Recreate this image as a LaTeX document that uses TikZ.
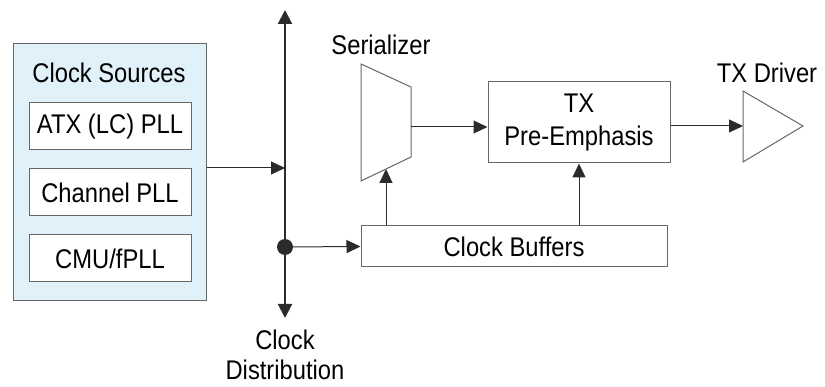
\documentclass[tikz,border=0pt]{standalone}
\usepackage{fontspec}
\setmainfont{Liberation Sans}[FakeStretch=0.88]
\usepackage{xcolor}
\usetikzlibrary{arrows.meta}
\definecolor{srcblue}{HTML}{E1F1F9}
\definecolor{wire}{HTML}{2B2B2B}
\definecolor{edge}{HTML}{666666}
\tikzstyle{block}=[rectangle,draw=edge,fill=white,line width=1pt,inner sep=0pt,font=\fontsize{27}{33}\selectfont,align=center]
\tikzstyle{tag}=[inner sep=0pt,font=\fontsize{27}{30}\selectfont,align=center]
\tikzstyle{sig}=[draw=wire,line width=1pt,-{Triangle[length=14pt,width=13pt]}]
\tikzstyle{bus}=[draw=wire,line width=2pt,{Triangle[length=14pt,width=14pt]}-{Triangle[length=14pt,width=14pt]}]

\begin{document}
\begin{tikzpicture}[x=1pt,y=-1pt]
        \useasboundingbox (0,0) rectangle (825,387);

        % clock sources
        \node at (109.5,172.5) [block,fill=srcblue,minimum width=193,minimum height=257] (src) {};
        \node at (109,73)    [tag]                                         (srctitle) {Clock Sources};
        \node at (110,126.5) [block,minimum width=162,minimum height=47] (atx) {ATX (LC) PLL};
        \node at (110,192.5) [block,minimum width=162,minimum height=47] (chpll) {Channel PLL};
        \node at (110,258.5) [block,minimum width=162,minimum height=47] (cmu) {CMU/fPLL};

        % clock distribution bus
        \coordinate (bustop) at (285,10);
        \coordinate (busbot) at (285,318);
        \coordinate (busin)  at (285,168);
        \draw [bus] (busbot) -- (bustop);
        \node at (285,247) [circle,fill=wire,minimum size=16,inner sep=0pt] (tap) {};
        \node at (285,355) [tag] (distlabel) {Clock\\Distribution};

        % serializer
        \coordinate (sera) at (361,64);
        \coordinate (serb) at (411,87);
        \coordinate (serc) at (411,157);
        \coordinate (serd) at (361,181);
        \coordinate (serout) at (411,127);
        \coordinate (serclk) at (386,169);
        \draw [edge,line width=1pt,fill=white] (sera) -- (serb) -- (serc) -- (serd) -- cycle;
        \node at (381,45) [tag] (serlabel) {Serializer};

        % pre-emphasis, buffers, driver
        \node at (579,122.5) [block,minimum width=182,minimum height=81] (tx) {TX\\Pre-Emphasis};
        \node at (514,246.5) [block,minimum width=306,minimum height=41] (buf) {Clock Buffers};
        \coordinate (drva) at (743,91);
        \coordinate (drvb) at (803,126);
        \coordinate (drvc) at (743,162);
        \coordinate (drvin) at (743,126);
        \draw [edge,line width=1pt,fill=white] (drva) -- (drvb) -- (drvc) -- cycle;
        \node at (767,73) [tag] (drvlabel) {TX Driver};

        \draw [sig] (src.east |- busin) -- (busin);
        \draw [sig] (tap) -- (buf.west);
        \draw [sig] (buf.north -| serclk) -- (serclk);
        \draw [sig] (buf.north -| tx.south) -- (tx.south);
        \draw [sig] (serout) -- (serout -| tx.west);
        \draw [sig] (tx.east |- drvin) -- (drvin);
      \end{tikzpicture}
\end{document}
